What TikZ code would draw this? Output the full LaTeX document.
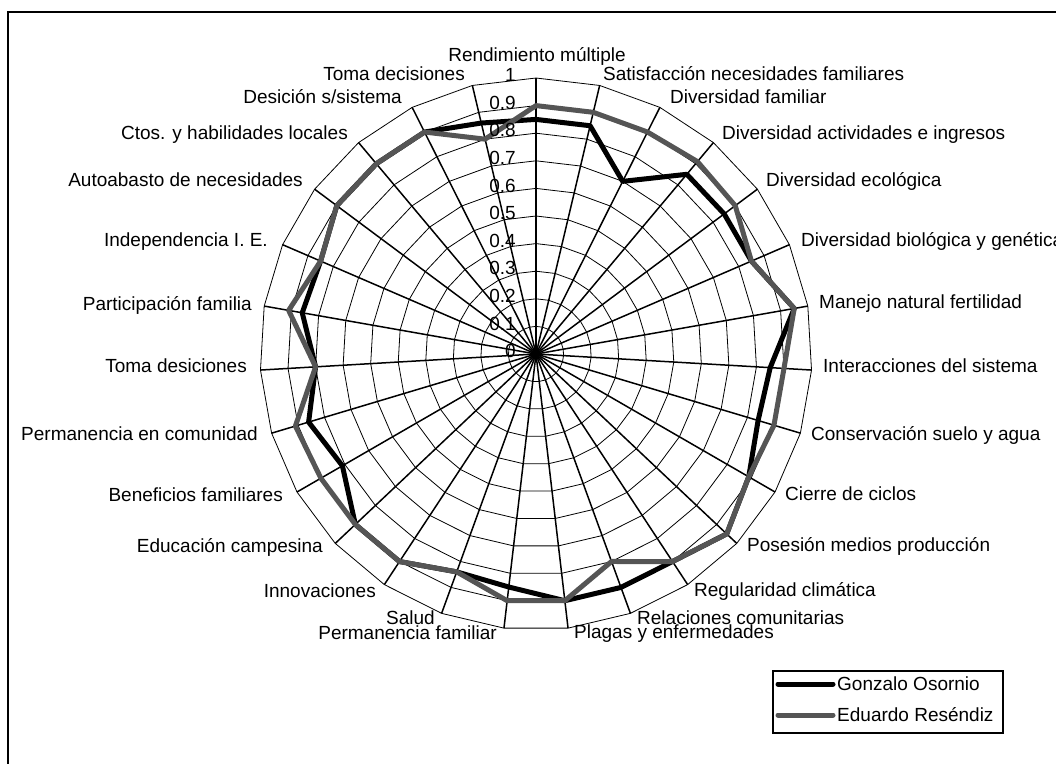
\documentclass[tikz,border=0pt]{standalone}
\usepackage{fontspec}
\setmainfont{Liberation Sans}
\usepackage{tikz}
\definecolor{gonzalo}{RGB}{0,0,0}
\definecolor{eduardo}{RGB}{85,85,85}
\tikzset{
	ring/.style={line width=0.8pt},
	spoke/.style={line width=1.5pt},
	serie/.style={line width=5pt, line join=round},
	lbl/.style={inner sep=0pt, text height=0.72em, text depth=0pt}
}

\begin{document}
\begin{tikzpicture}[x=1pt, y=-1pt, font=\fontsize{19}{22}\selectfont]
	\useasboundingbox (0,0) rectangle (1056,763);
	\coordinate (O) at (536,354);
	% frame
	\draw [line width=2pt] (8,790) -- (8,12) -- (1080,12);
	% grid
	\foreach \r in {1,...,10}
		\draw [ring] plot [samples=28, domain=0:360, variable=\a] ({536+27.6*\r*sin(\a)}, {354-27.6*\r*cos(\a)}) -- cycle;
	\foreach \k in {0,...,26}
		\draw [spoke] (O) -- ++({276*sin(\k*360/27)}, {-276*cos(\k*360/27)});
	% series
	\foreach \v [count=\k] in {0.85,0.85,0.70,0.85,0.85,0.85,0.95,0.85,0.84,0.89,0.95,0.90,0.90,0.90,0.85,0.84,0.90,0.90,0.81,0.86,0.80,0.86,0.85,0.90,0.90,0.90,0.86}
		\coordinate (G\k) at ({536+276*\v*sin((\k-1)*360/27)}, {354-276*\v*cos((\k-1)*360/27)});
	\foreach \v [count=\k] in {0.90,0.90,0.90,0.91,0.90,0.85,0.95,0.90,0.90,0.89,0.95,0.90,0.80,0.90,0.90,0.84,0.90,0.90,0.90,0.91,0.80,0.91,0.85,0.90,0.90,0.90,0.80}
		\coordinate (E\k) at ({536+276*\v*sin((\k-1)*360/27)}, {354-276*\v*cos((\k-1)*360/27)});
	\draw [serie, gonzalo] (G1) \foreach \k in {2,...,27} {-- (G\k)} -- cycle;
	\draw [serie, eduardo] (E1) \foreach \k in {2,...,27} {-- (E\k)} -- cycle;
	% scale
	\foreach \r/\t in {0/0,1/0.1,2/0.2,3/0.3,4/0.4,5/0.5,6/0.6,7/0.7,8/0.8,9/0.9,10/1}
		\node [lbl, anchor=east] (T\r) at (516, {354-27.6*\r}) {\t};
	% axis labels
	\node [lbl] (L1) at (537,58) {Rendimiento múltiple};
	\node [lbl, anchor=west] (L2) at (603,77) {Satisfacción necesidades familiares};
	\node [lbl, anchor=west] (L3) at (670,100) {Diversidad familiar};
	\node [lbl, anchor=west] (L4) at (722,136) {Diversidad actividades e ingresos};
	\node [lbl, anchor=west] (L5) at (766,183) {Diversidad ecológica};
	\node [lbl, anchor=west] (L6) at (801,243) {Diversidad biológica y genética};
	\node [lbl, anchor=west] (L7) at (819,305) {Manejo natural fertilidad};
	\node [lbl, anchor=west] (L8) at (823,369) {Interacciones del sistema};
	\node [lbl, anchor=west] (L9) at (811,437) {Conservación suelo y agua};
	\node [lbl, anchor=west] (L10) at (785,497) {Cierre de ciclos};
	\node [lbl, anchor=west] (L11) at (747,548) {Posesión medios producción};
	\node [lbl, anchor=west] (L12) at (694,593) {Regularidad climática};
	\node [lbl, anchor=west] (L13) at (637,621) {Relaciones comunitarias};
	\node [lbl, anchor=west] (L14) at (574,635) {Plagas y enfermedades};
	\node [lbl, anchor=east] (L15) at (497,636) {Permanencia familiar};
	\node [lbl, anchor=east] (L16) at (435,621) {Salud};
	\node [lbl, anchor=east] (L17) at (376,594) {Innovaciones};
	\node [lbl, anchor=east] (L18) at (323,549) {Educación campesina};
	\node [lbl, anchor=east] (L19) at (283,498) {Beneficios familiares};
	\node [lbl, anchor=east] (L20) at (258,437) {Permanencia en comunidad};
	\node [lbl, anchor=east] (L21) at (247,369) {Toma desiciones};
	\node [lbl, anchor=east] (L22) at (252,307) {Participación familia};
	\node [lbl, anchor=east] (L23) at (268,243) {Independencia I. E.};
	\node [lbl, anchor=east] (L24) at (303,183) {Autoabasto de necesidades};
	\node [lbl, anchor=east] (L25) at (348,136) {Ctos. y habilidades locales};
	\node [lbl, anchor=east] (L26) at (402,100) {Desición s/sistema};
	\node [lbl, anchor=east] (L27) at (465,77) {Toma decisiones};
	% legend
	\draw [line width=1.5pt] (773,671) rectangle (1003,733);
	\coordinate (GA) at (778,684);
	\coordinate (GB) at (833,684);
	\coordinate (EA) at (778,715);
	\coordinate (EB) at (833,715);
	\draw [line width=5pt, line cap=round, gonzalo] (GA) -- (GB);
	\draw [line width=5pt, line cap=round, eduardo] (EA) -- (EB);
	\node [lbl, anchor=west] (Gname) at (837,687) {Gonzalo Osornio};
	\node [lbl, anchor=west] (Ename) at (837,718) {Eduardo Reséndiz};
\end{tikzpicture}
\end{document}
